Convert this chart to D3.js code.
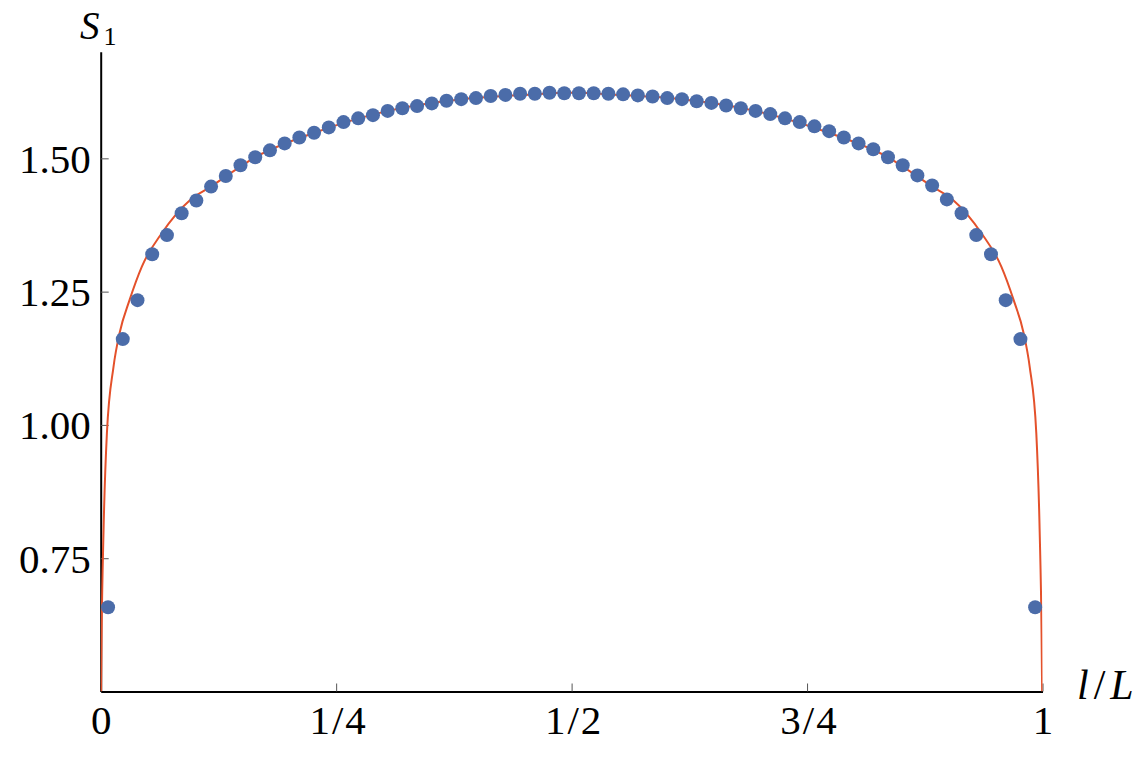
<!DOCTYPE html>
<html>
<head>
<meta charset="utf-8">
<script src="https://cdn.jsdelivr.net/npm/d3@7"></script>
<style>
  body { margin: 0; background: #fff; }
  svg { display: block; }
  text { font-family: "Liberation Serif", "DejaVu Serif", serif; fill: #000; }
</style>
</head>
<body>
<svg id="chart"></svg>
<script>
const width = 1139;
const height = 758;

// lattice sites (l - 1/2) for L = 64
const L = 64;
const sites = [0.5, 1.5, 2.5, 3.5, 4.5, 5.5, 6.5, 7.5, 8.5, 9.5, 10.5, 11.5, 12.5, 13.5, 14.5, 15.5,
  16.5, 17.5, 18.5, 19.5, 20.5, 21.5, 22.5, 23.5, 24.5, 25.5, 26.5, 27.5, 28.5, 29.5, 30.5, 31.5,
  32.5, 33.5, 34.5, 35.5, 36.5, 37.5, 38.5, 39.5, 40.5, 41.5, 42.5, 43.5, 44.5, 45.5, 46.5, 47.5,
  48.5, 49.5, 50.5, 51.5, 52.5, 53.5, 54.5, 55.5, 56.5, 57.5, 58.5, 59.5, 60.5, 61.5, 62.5, 63.5];
const entropy = [0.658, 1.161, 1.234, 1.320, 1.356, 1.397, 1.421, 1.447, 1.467, 1.487, 1.502, 1.515,
  1.528, 1.539, 1.548, 1.558, 1.568, 1.575, 1.581, 1.589, 1.594, 1.598, 1.603, 1.608, 1.611, 1.613,
  1.617, 1.619, 1.621, 1.621, 1.623, 1.622, 1.622, 1.622, 1.621, 1.620, 1.618, 1.616, 1.613, 1.611,
  1.607, 1.604, 1.599, 1.594, 1.589, 1.583, 1.575, 1.568, 1.560, 1.551, 1.539, 1.528, 1.517, 1.502,
  1.487, 1.468, 1.449, 1.423, 1.397, 1.356, 1.320, 1.234, 1.161, 0.658];

// fitted curve
const fitX = [0.0004, 0.001, 0.003, 0.0066, 0.0136, 0.02, 0.0306, 0.0437, 0.065, 0.095, 0.117, 0.164,
  0.227, 0.305, 0.383, 0.45, 0.5, 0.55, 0.617, 0.695, 0.773, 0.836, 0.883, 0.905, 0.935, 0.9563,
  0.9694, 0.98, 0.9864, 0.9934, 0.997, 0.999, 0.9996];
const fitY = [0.50, 0.61, 0.80, 0.985, 1.109, 1.172, 1.234, 1.297, 1.36, 1.422, 1.447, 1.502,
  1.548, 1.589, 1.611, 1.619, 1.623, 1.619, 1.611, 1.589, 1.548, 1.502, 1.447, 1.422, 1.36, 1.297,
  1.234, 1.172, 1.109, 0.985, 0.80, 0.61, 0.50];

const xTicks = [0, 0.25, 0.5, 0.75, 1];
const xTickLabels = ['0', '1/4', '1/2', '3/4', '1'];
const yTicks = [0.75, 1.00, 1.25, 1.50];

const svg = d3.select('#chart').attr('width', width).attr('height', height);
const x = d3.scaleLinear().domain([0, 1]).range([100.7, 1042.5]);
const y = d3.scaleLinear().domain([0.5, 1.7]).range([691.5, 51.7]);

svg.append('defs').append('clipPath').attr('id', 'plot')
  .append('rect').attr('x', x(0)).attr('y', y(1.7)).attr('width', x(1) - x(0)).attr('height', y(0.5) - y(1.7));

// axes
const xAxis = svg.append('g').attr('transform', `translate(0,${y(0.5)})`)
  .call(d3.axisBottom(x).tickValues(xTicks).tickFormat((d, i) => xTickLabels[i]).tickSize(-8).tickSizeOuter(0).tickPadding(13));
const yAxis = svg.append('g').attr('transform', `translate(${x(0)},0)`)
  .call(d3.axisLeft(y).tickValues(yTicks).tickFormat(d3.format('.2f')).tickSize(-8).tickSizeOuter(0).tickPadding(10));

[xAxis, yAxis].forEach(g => {
  g.select('.domain').attr('stroke', '#000').attr('stroke-width', 2);
  g.selectAll('.tick line').attr('stroke', '#555').attr('stroke-width', 1);
  g.selectAll('.tick text').attr('font-family', '"Liberation Serif", serif').attr('font-size', 41).attr('fill', '#000');
});
xAxis.selectAll('.tick text').attr('dy', '0.71em')
  .attr('letter-spacing', d => (d > 0 && d < 1) ? 2 : 0)
  .attr('dx', d => (d > 0 && d < 1) ? 2 : 0);
yAxis.selectAll('.tick text').attr('dy', '0.34em');

// fitted line
const line = d3.line().x(d => x(d[0])).y(d => y(d[1])).curve(d3.curveMonotoneX);
svg.append('path')
  .datum(fitX.map((v, i) => [v, fitY[i]]))
  .attr('clip-path', 'url(#plot)')
  .attr('fill', 'none')
  .attr('stroke', '#e4512b')
  .attr('stroke-width', 2)
  .attr('d', line);

// numerical points
svg.append('g').selectAll('circle')
  .data(sites.map((s, i) => [s / L, entropy[i]]))
  .join('circle')
  .attr('cx', d => x(d[0]))
  .attr('cy', d => y(d[1]))
  .attr('r', 7)
  .attr('fill', '#4b6ca9');

// axis labels
const yl = svg.append('text').attr('x', 80).attr('y', 38.5).attr('font-size', 39);
yl.append('tspan').attr('font-style', 'italic').text('S');
yl.append('tspan').attr('font-size', 26).attr('dy', 6.5).attr('dx', 4).text('1');

const xl = svg.append('text').attr('x', 1077).attr('y', 699).attr('font-size', 42).attr('letter-spacing', 5);
xl.append('tspan').attr('font-style', 'italic').text('l');
xl.append('tspan').text('/');
xl.append('tspan').attr('font-style', 'italic').text('L');
</script>
</body>
</html>
